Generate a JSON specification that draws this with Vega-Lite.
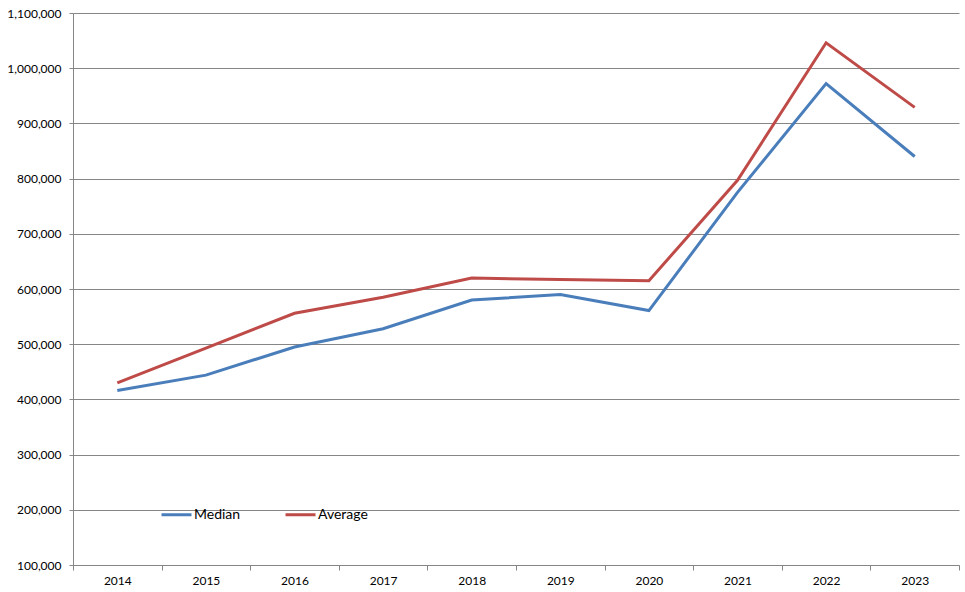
{
  "$schema": "https://vega.github.io/schema/vega-lite/v6.json",
  "width": 886,
  "height": 552,
  "autosize": {"type": "none"},
  "padding": {"left": 73, "top": 13, "right": 6, "bottom": 27},
  "background": "white",
  "config": {
    "view": {"stroke": null},
    "font": "Lato",
    "axis": {"labelFont": "Lato", "labelColor": "#000000", "labelFontSize": 12}
  },
  "data": {
    "values": [
      {"year": "2014", "series": "Median", "value": 416000},
      {"year": "2015", "series": "Median", "value": 444000},
      {"year": "2016", "series": "Median", "value": 495000},
      {"year": "2017", "series": "Median", "value": 528000},
      {"year": "2018", "series": "Median", "value": 580000},
      {"year": "2019", "series": "Median", "value": 590000},
      {"year": "2020", "series": "Median", "value": 561000},
      {"year": "2021", "series": "Median", "value": 775000},
      {"year": "2022", "series": "Median", "value": 972000},
      {"year": "2023", "series": "Median", "value": 840000},
      {"year": "2014", "series": "Average", "value": 430000},
      {"year": "2015", "series": "Average", "value": 493000},
      {"year": "2016", "series": "Average", "value": 556000},
      {"year": "2017", "series": "Average", "value": 585000},
      {"year": "2018", "series": "Average", "value": 620000},
      {"year": "2019", "series": "Average", "value": 617000},
      {"year": "2020", "series": "Average", "value": 615000},
      {"year": "2021", "series": "Average", "value": 797000},
      {"year": "2022", "series": "Average", "value": 1046000},
      {"year": "2023", "series": "Average", "value": 929000}
    ]
  },
  "mark": {"type": "line", "strokeWidth": 3, "strokeJoin": "miter"},
  "encoding": {
    "x": {
      "field": "year",
      "type": "ordinal",
      "bandPosition": 0.5,
      "scale": {"type": "band", "paddingInner": 0, "paddingOuter": 0},
      "axis": {
        "title": null,
        "labelAngle": 0,
        "tickBand": "extent",
        "grid": false,
        "domainColor": "#868686",
        "tickColor": "#868686",
        "tickSize": 5,
        "labelPadding": 5
      }
    },
    "y": {
      "field": "value",
      "type": "quantitative",
      "scale": {"domain": [100000, 1100000], "nice": false, "zero": false},
      "axis": {
        "title": null,
        "values": [100000, 200000, 300000, 400000, 500000, 600000, 700000, 800000, 900000, 1000000, 1100000],
        "format": ",d",
        "grid": true,
        "gridColor": "#868686",
        "gridWidth": 1,
        "domainColor": "#868686",
        "tickColor": "#868686",
        "tickSize": 4,
        "labelPadding": 8
      }
    },
    "color": {
      "field": "series",
      "type": "nominal",
      "scale": {"domain": ["Median", "Average"], "range": ["#4A7EBB", "#BE4B48"]},
      "legend": {
        "title": null,
        "orient": "none",
        "legendX": 87,
        "legendY": 485,
        "direction": "horizontal",
        "symbolType": "stroke",
        "symbolSize": 900,
        "symbolStrokeWidth": 3,
        "labelFontSize": 14,
        "labelFont": "Lato",
        "labelColor": "#000000",
        "labelOffset": 1,
        "columnPadding": 38,
        "padding": 0
      }
    }
  }
}
